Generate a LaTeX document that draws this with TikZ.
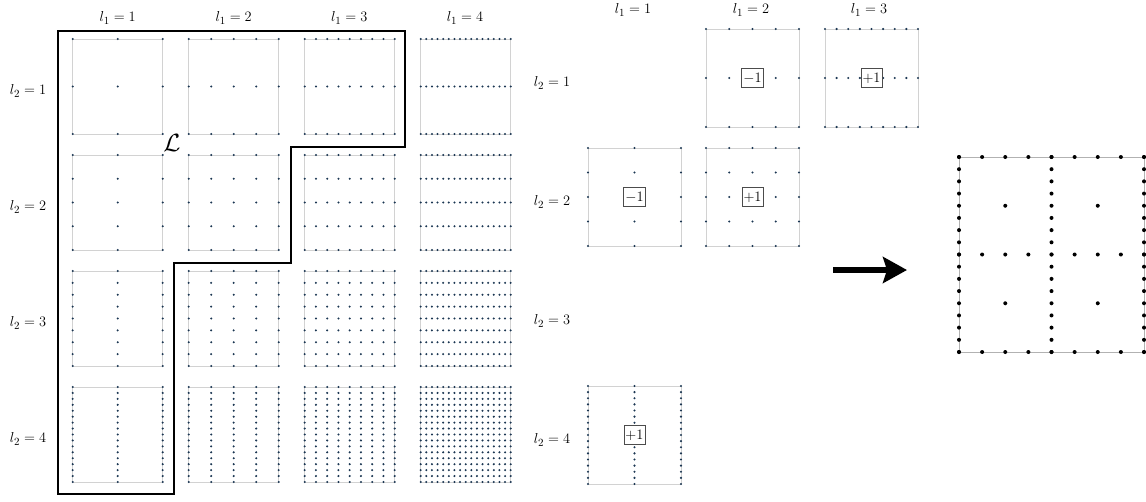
\documentclass[tikz,border=0pt]{standalone}
\usetikzlibrary{arrows.meta}
\definecolor{dotc}{HTML}{1B3652}
\definecolor{bordc}{HTML}{D2D2D2}
\tikzset{
  cellborder/.style={draw=bordc, line width=0.9pt},
  lab/.style={font=\fontsize{15}{18}\selectfont, inner sep=0pt},
  valbox/.style={draw=black!70, fill=white, line width=0.8pt, font=\fontsize{15}{18}\selectfont, inner xsep=1.5pt, inner ysep=0pt, minimum height=18.5pt},
  outline/.style={line width=2.8pt, line join=miter},
  bigarrow/.style={line width=6pt, -{Stealth[length=24pt,width=26pt,inset=4pt]}},
}
\newcommand{\mygrid}[7]{%
  \pgfmathsetmacro\myxo{#1}%
  \pgfmathsetmacro\myyo{#2}%
  \draw[cellborder] (\myxo,\myyo) rectangle ++(#3,#4);
  \pgfmathtruncatemacro\mynx{2^(#5)}%
  \pgfmathtruncatemacro\myny{2^(#6)}%
  \foreach \a in {0,...,\mynx}{\foreach \b in {0,...,\myny}{%
    \fill[dotc] ({\myxo+#3*\a/\mynx},{\myyo+#4*\b/\myny}) circle (#7);}}%
}
\begin{document}
\begin{tikzpicture}[x=1pt,y=-1pt]
\useasboundingbox (0,0) rectangle (1146,501);
% ---------- left: full grid of component grids ----------
\foreach \i in {1,...,4}{
  \foreach \j in {1,...,4}{
    \mygrid{72.7+116*(\i-1)}{39+116*(\j-1)}{90}{95}{\i}{\j}{1.15pt}
  }
}
\node[lab] (lt1) at (117.7,18) {$l_1=1$};
\node[lab] (lt2) at (233.7,18) {$l_1=2$};
\node[lab] (lt3) at (349.3,18) {$l_1=3$};
\node[lab] (lt4) at (465,18) {$l_1=4$};
\node[lab] (ls1) at (28,91) {$l_2=1$};
\node[lab] (ls2) at (28,207) {$l_2=2$};
\node[lab] (ls3) at (28,323) {$l_2=3$};
\node[lab] (ls4) at (28,439) {$l_2=4$};
% L-shaped index set
\draw[outline] (58,31) -- (405,31) -- (405,147) -- (291,147) -- (291,263)
  -- (174,263) -- (174,494) -- (58,494) -- cycle;
\node[inner sep=0pt, font=\fontsize{28}{31}\selectfont] (calL) at (172,143) {$\mathcal{L}$};
% ---------- right: combination grids ----------
\node[lab] (rt1) at (633,10) {$l_1=1$};
\node[lab] (rt2) at (751,10) {$l_1=2$};
\node[lab] (rt3) at (869,10) {$l_1=3$};
\node[lab] (rs1) at (552,83) {$l_2=1$};
\node[lab] (rs2) at (552,202) {$l_2=2$};
\node[lab] (rs3) at (552,321) {$l_2=3$};
\node[lab] (rs4) at (552,440) {$l_2=4$};
\mygrid{706}{29}{93}{98}{2}{1}{1.15pt}
\mygrid{825}{29}{93}{98}{3}{1}{1.15pt}
\mygrid{588}{148}{93}{98}{1}{2}{1.15pt}
\mygrid{706}{148}{93}{98}{2}{2}{1.15pt}
\mygrid{588}{386}{93}{98}{1}{4}{1.15pt}
\node[valbox] (c21) at (752.5,78) {$-1$};
\node[valbox] (c31) at (871.5,78) {$+1$};
\node[valbox] (c12) at (634.5,197) {$-1$};
\node[valbox] (c22) at (752.5,197) {$+1$};
\node[valbox] (c14) at (634.5,435) {$+1$};
% ---------- arrow ----------
\coordinate (arA) at (833,270);
\coordinate (arB) at (907,270);
\draw[bigarrow] (arA) -- (arB);
% ---------- resulting sparse grid ----------
\begin{scope}[shift={(959,157)}]
  \draw[cellborder, draw=black!30] (0,0) rectangle (185,195);
  \foreach \a in {0,4,8}{\foreach \b in {0,...,16}{\fill[black] ({\a*185/8},{\b*195/16}) circle (2pt);}}
  \foreach \b in {0,8,16}{\foreach \a in {0,...,8}{\fill[black] ({\a*185/8},{\b*195/16}) circle (2pt);}}
  \foreach \a in {2,6}{\foreach \b in {4,12}{\fill[black] ({\a*185/8},{\b*195/16}) circle (2pt);}}
\end{scope}
\end{tikzpicture}
\end{document}
